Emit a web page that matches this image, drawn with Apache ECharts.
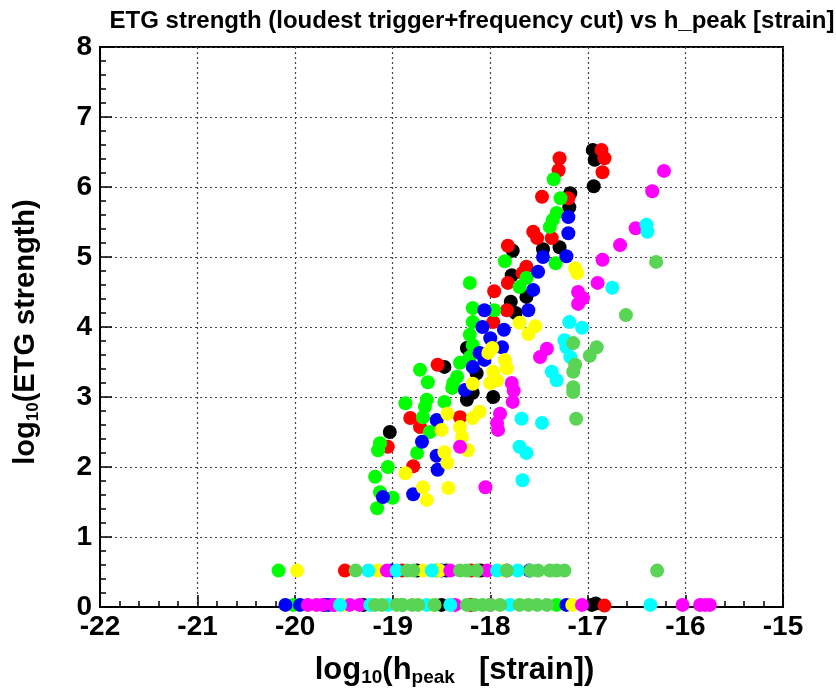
<!DOCTYPE html>
<html>
<head>
<meta charset="utf-8">
<script src="https://cdn.jsdelivr.net/npm/echarts@6/dist/echarts.min.js"></script>
<style>
  html, body { margin: 0; padding: 0; background: #fff; }
  #chart { width: 836px; height: 693px; }
</style>
</head>
<body>
<div id="chart"></div>
<script>
// log10(h_peak) vs log10(ETG strength), one list of [x, y] per injection colour
const black = [[-16.95,6.53],[-16.93,6.39],[-16.94,6.01],[-17.18,5.91],[-17.19,5.71],[-17.29,5.14],[-17.46,5.11],[-17.77,5.09],[-17.78,4.74],[-17.63,4.43],[-17.79,4.36],[-17.74,4.20],[-18.24,3.70],[-18.47,3.43],[-18.14,3.34],[-17.97,3.00],[-18.24,2.96],[-18.18,3.06],[-19.03,2.50],
  [-18.75,0.52],[-18.45,0.52],[-18.10,0.52],
  [-19.70,0.03],[-19.30,0.03],[-18.50,0.03],[-16.96,0.03],[-16.92,0.05]];
const red = [[-17.29,6.41],[-17.30,6.24],[-17.47,5.86],[-17.20,5.84],[-16.86,6.53],[-16.83,6.41],[-16.85,6.21],[-17.56,5.36],[-17.52,5.27],[-17.37,5.27],[-17.82,5.16],[-17.63,4.86],[-17.67,4.77],[-17.82,4.63],[-17.96,4.51],[-17.83,4.24],[-17.97,4.07],[-18.54,3.46],[-18.31,2.71],[-18.82,2.70],[-18.72,2.57],[-19.05,2.29],[-18.79,2.01],
  [-19.49,0.52],[-18.90,0.52],[-18.20,0.52],
  [-19.60,0.03],[-18.20,0.03],[-16.83,0.02]];
const green = [[-17.35,6.11],[-17.28,5.84],[-17.32,5.63],[-17.36,5.53],[-17.39,5.43],[-17.33,4.91],[-17.85,4.94],[-17.63,4.70],[-17.70,4.57],[-18.21,4.63],[-18.18,4.27],[-17.96,4.24],[-18.18,4.07],[-18.21,3.89],[-18.18,3.74],[-18.21,3.57],[-18.31,3.49],[-18.34,3.29],[-18.38,3.20],[-18.72,3.39],[-18.64,3.21],[-18.39,3.13],[-18.65,2.96],[-18.87,2.91],[-18.67,2.86],[-18.69,2.71],[-18.62,2.50],[-18.47,2.93],[-19.13,2.34],[-19.15,2.24],[-18.75,2.20],[-19.05,2.00],[-19.18,1.86],[-19.13,1.64],[-19.00,1.56],[-19.16,1.41],
  [-20.17,0.52],[-18.55,0.52],
  [-20.02,0.03],[-18.90,0.03],[-17.32,0.03]];
const blue = [[-17.20,5.57],[-17.20,5.34],[-17.22,5.01],[-17.46,5.00],[-17.51,4.79],[-17.56,4.53],[-17.61,4.24],[-18.06,4.24],[-18.08,4.00],[-17.86,3.96],[-18.00,3.84],[-17.88,3.71],[-18.06,3.53],[-18.11,3.63],[-18.18,3.43],[-18.26,3.10],[-18.55,2.67],[-18.70,2.36],[-18.55,2.16],[-18.54,1.96],[-18.79,1.61],[-19.10,1.57],
  [-19.01,0.52],[-18.50,0.52],[-17.60,0.52],
  [-20.10,0.03],[-19.95,0.03],[-19.66,0.03],[-17.22,0.03]];
const yellow = [[-17.13,4.84],[-17.11,4.77],[-17.70,4.06],[-17.54,4.01],[-17.61,3.90],[-17.98,3.70],[-18.02,3.63],[-17.85,3.53],[-17.83,3.41],[-17.97,3.36],[-17.93,3.24],[-18.00,3.20],[-18.18,3.19],[-18.11,2.79],[-18.18,2.70],[-18.31,2.57],[-18.29,2.43],[-18.23,2.24],[-18.44,2.76],[-18.50,2.53],[-18.47,2.21],[-18.44,2.06],[-18.87,1.91],[-18.69,1.71],[-18.65,1.53],[-18.43,1.70],
  [-19.98,0.52],[-19.15,0.52],[-18.69,0.52],[-18.52,0.52],[-17.90,0.52],
  [-19.50,0.03],[-18.60,0.03],[-17.16,0.03]];
const magenta = [[-16.22,6.23],[-16.34,5.94],[-16.51,5.41],[-16.67,5.17],[-16.85,4.96],[-16.90,4.63],[-17.10,4.50],[-17.05,4.41],[-17.10,4.33],[-17.42,3.69],[-17.49,3.57],[-17.78,3.20],[-17.76,3.09],[-17.77,2.93],[-17.90,2.76],[-17.93,2.63],[-17.92,2.53],[-18.31,2.29],[-18.05,1.71],
  [-19.06,0.52],[-18.41,0.52],[-18.03,0.52],[-17.83,0.52],
  [-19.87,0.03],[-19.78,0.03],[-19.72,0.03],[-19.61,0.03],[-19.44,0.03],[-19.34,0.03],[-18.36,0.03],[-18.00,0.03],[-17.06,0.03],[-16.03,0.03],[-15.85,0.03],[-15.80,0.03],[-15.75,0.03]];
const cyan = [[-16.40,5.46],[-16.39,5.36],[-16.75,4.56],[-17.19,4.07],[-17.06,3.99],[-17.24,3.81],[-17.22,3.71],[-17.18,3.57],[-17.37,3.36],[-17.32,3.24],[-17.68,2.69],[-17.47,2.63],[-17.70,2.29],[-17.63,2.20],[-17.67,1.81],
  [-19.25,0.52],[-18.96,0.52],[-18.60,0.52],[-17.93,0.52],[-17.72,0.52],
  [-19.54,0.03],[-19.23,0.03],[-19.05,0.03],[-18.65,0.03],[-18.41,0.03],[-17.80,0.03],[-16.36,0.03]];
const softGreen = [[-16.30,4.93],[-16.61,4.17],[-16.91,3.71],[-16.98,3.59],[-17.15,3.77],[-17.13,3.46],[-17.15,3.36],[-17.15,3.14],[-17.15,3.07],[-17.12,2.69],
  [-19.38,0.52],[-18.85,0.52],[-18.79,0.52],[-18.31,0.52],[-18.24,0.52],[-18.14,0.52],[-17.83,0.52],[-17.59,0.52],[-17.51,0.52],[-17.39,0.52],[-17.32,0.52],[-17.24,0.52],[-16.29,0.52],
  [-19.18,0.03],[-19.11,0.03],[-18.96,0.03],[-18.90,0.03],[-18.80,0.03],[-18.74,0.03],[-18.57,0.03],[-18.24,0.03],[-18.16,0.03],[-18.08,0.03],[-18.00,0.03],[-17.90,0.03],[-17.70,0.03],[-17.61,0.03],[-17.52,0.03],[-17.42,0.03]];

const groups = [
  { data: black, color: '#000000' },
  { data: red, color: '#ff0000' },
  { data: green, color: '#00ff00' },
  { data: blue, color: '#0000ff' },
  { data: yellow, color: '#ffff00' },
  { data: magenta, color: '#ff00ff' },
  { data: cyan, color: '#00ffff' },
  { data: softGreen, color: '#59d454' }
];

const FONT = '"Liberation Sans", Arial, sans-serif';
const xBig = { fontFamily: FONT, fontWeight: 'bold', fontSize: 31, color: '#000', lineHeight: 34 };
const xSub = { fontFamily: FONT, fontWeight: 'bold', fontSize: 19, color: '#000', lineHeight: 16, verticalAlign: 'bottom' };
const xSubGap = Object.assign({}, xSub, { padding: [0, 24, 0, 0] });
const yBig = { fontFamily: FONT, fontWeight: 'bold', fontSize: 29, color: '#000', lineHeight: 33 };
const ySub = { fontFamily: FONT, fontWeight: 'bold', fontSize: 17, color: '#000', lineHeight: 15, verticalAlign: 'bottom' };

const chart = echarts.init(document.getElementById('chart'), null, { renderer: 'canvas' });
chart.setOption({
  animation: false,
  backgroundColor: '#ffffff',
  title: {
    text: 'ETG strength (loudest trigger+frequency cut) vs h_peak [strain]',
    left: 467, top: 4, textAlign: 'center',
    textStyle: { fontFamily: FONT, fontWeight: 'bold', fontSize: 24, color: '#000' }
  },
  grid: { left: 100, right: 53, top: 47, bottom: 86, containLabel: false, outerBoundsMode: 'none',
    show: true, borderColor: '#000', borderWidth: 2, backgroundColor: 'transparent' },
  xAxis: {
    type: 'value', min: -22, max: -15, interval: 1,
    name: '{a|log}{s|10}{a|(h}{p|peak}{a|[strain])}',
    nameLocation: 'middle', nameGap: 46,
    nameTextStyle: { rich: { a: xBig, s: xSub, p: xSubGap }, padding: [0, 0, 0, 26] },
    axisLine: { show: true, onZero: false, lineStyle: { color: '#000', width: 2 } },
    axisTick: { show: true, inside: true, length: 12, lineStyle: { color: '#000', width: 1.5 } },
    minorTick: { show: true, splitNumber: 5, length: 6, lineStyle: { color: '#000', width: 1.5 } },
    axisLabel: { fontFamily: FONT, fontWeight: 'bold', fontSize: 28, color: '#000', margin: 6 },
    splitLine: { show: true, lineStyle: { color: '#444', width: 1.2, type: [2, 3] } }
  },
  yAxis: {
    type: 'value', min: 0, max: 8, interval: 1,
    name: '{a|log}{s|10}{a|(ETG strength)}',
    nameLocation: 'middle', nameGap: 58, nameRotate: 90,
    nameTextStyle: { rich: { a: yBig, s: ySub }, padding: [0, 10, 0, 0] },
    axisLine: { show: true, onZero: false, lineStyle: { color: '#000', width: 2 } },
    axisTick: { show: true, inside: true, length: 12, lineStyle: { color: '#000', width: 1.5 } },
    minorTick: { show: true, splitNumber: 5, length: 6, lineStyle: { color: '#000', width: 1.5 } },
    axisLabel: { fontFamily: FONT, fontWeight: 'bold', fontSize: 28, color: '#000', margin: 8 },
    splitLine: { show: true, lineStyle: { color: '#444', width: 1.2, type: [2, 3] } }
  },
  series: groups.map(g => ({
    type: 'scatter',
    data: g.data,
    symbol: 'circle',
    symbolSize: 14,
    itemStyle: { color: g.color, opacity: 1 },
    emphasis: { disabled: true }
  }))
});
</script>
</body>
</html>
